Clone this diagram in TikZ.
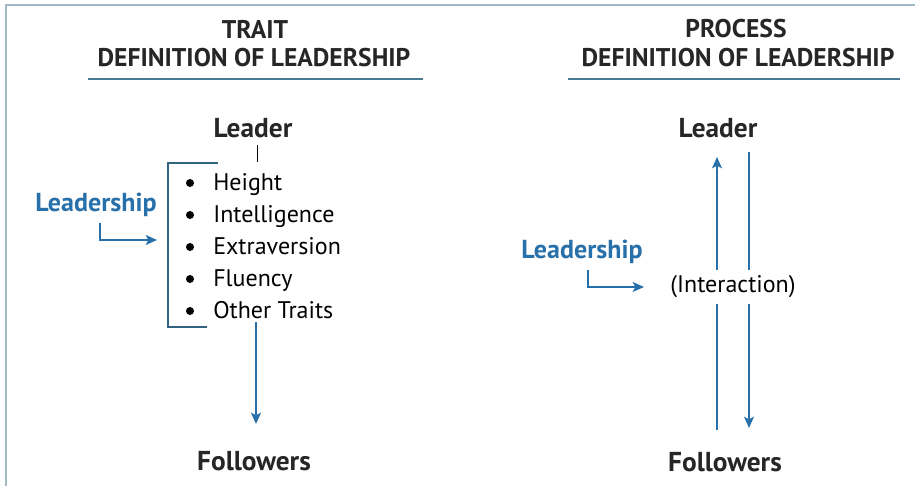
\documentclass[tikz,border=0pt]{standalone}
\usepackage{fontspec}
\setmainfont{PT Sans}
\usetikzlibrary{arrows.meta}
\definecolor{framecol}{RGB}{160,186,198}
\definecolor{rulecol}{RGB}{72,122,148}
\definecolor{leadblue}{RGB}{40,112,170}
\definecolor{brackcol}{RGB}{48,100,128}
\tikzset{
  headtxt/.style={font=\bfseries\fontsize{19.2}{23}\selectfont, text=black!85, inner sep=0pt},
  roletxt/.style={font=\bfseries\fontsize{20.5}{24}\selectfont, text=black!85, inner sep=0pt},
  itemtxt/.style={font=\fontsize{18}{21}\selectfont, anchor=base west, inner sep=0pt},
  leadtxt/.style={font=\bfseries\fontsize{19.5}{23}\selectfont, text=leadblue, inner sep=0pt},
  arr/.style={draw=leadblue, line width=1.1pt, -{Stealth[length=8.5pt,width=7.5pt,inset=2pt]}},
}
\begin{document}
\begin{tikzpicture}[x=0.75pt,y=0.75pt,yscale=-1,xscale=1]
\path[use as bounding box] (0,0) rectangle (915,486);

% frame
\draw[framecol, line width=1.2pt] (6,486) -- (6,5) -- (915,5);

%% TRAIT side
% Text Node
\node[headtxt] (ttitle) at (255,29) {TRAIT};
\node[headtxt] (tdef) at (254,58) {DEFINITION OF LEADERSHIP};
\draw[rulecol, line width=1.2pt] (88,79) -- (423,79);
% Text Node
\node[roletxt] (tleader) at (253,128) {Leader};
\node[roletxt] (tfollow) at (254,461) {Followers};
\node[leadtxt] (tlead) at (96,205) {Leadership};
% list of traits
\foreach \t [count=\i] in {Height,Intelligence,Extraversion,Fluency,Other Traits}{
  \node[itemtxt] (titem\i) at (213,158+32*\i) {\t};
  \fill (190,151+32*\i) circle (4);
}
% bracket
\draw[brackcol, line width=1.1pt] (218,163) -| (168,327) -- (207,327);
\coordinate (ttick) at (257,162);
\draw[line width=0.6pt] (tleader.south -| ttick) ++(0,7) -- (ttick);
% Straight Lines
\coordinate (tbend) at (100,223);
\coordinate (tin) at (157,240);
\draw[arr] (tbend) |- (tin);
\coordinate (tout) at (256,322);
\draw[arr, shorten >=27pt*0.75] (tout) -- (tout |- tfollow.north);

%% PROCESS side
% Text Node
\node[headtxt] (ptitle) at (736,29) {PROCESS};
\node[headtxt] (pdef) at (738,58) {DEFINITION OF LEADERSHIP};
\draw[rulecol, line width=1.2pt] (568,79) -- (900,79);
% Text Node
\node[roletxt] (pleader) at (718,128) {Leader};
\node[roletxt] (pfollow) at (725,462) {Followers};
\node[leadtxt] (plead) at (582,252) {Leadership};
% Straight Lines
\coordinate (pup) at (717,157);
\coordinate (pdown) at (749,428);
\draw[arr] (pup |- 0,430) -- (pup);
\draw[arr] (pdown |- 0,152) -- (pdown);
% Text Node
\node[fill=white, inner xsep=1pt, inner ysep=4pt, font=\fontsize{18}{21}\selectfont] (pinter) at (733,287) {(Interaction)};
\coordinate (pbend) at (588,270);
\coordinate (pin) at (644,287);
\draw[arr] (pbend) |- (pin);
\end{tikzpicture}
\end{document}
